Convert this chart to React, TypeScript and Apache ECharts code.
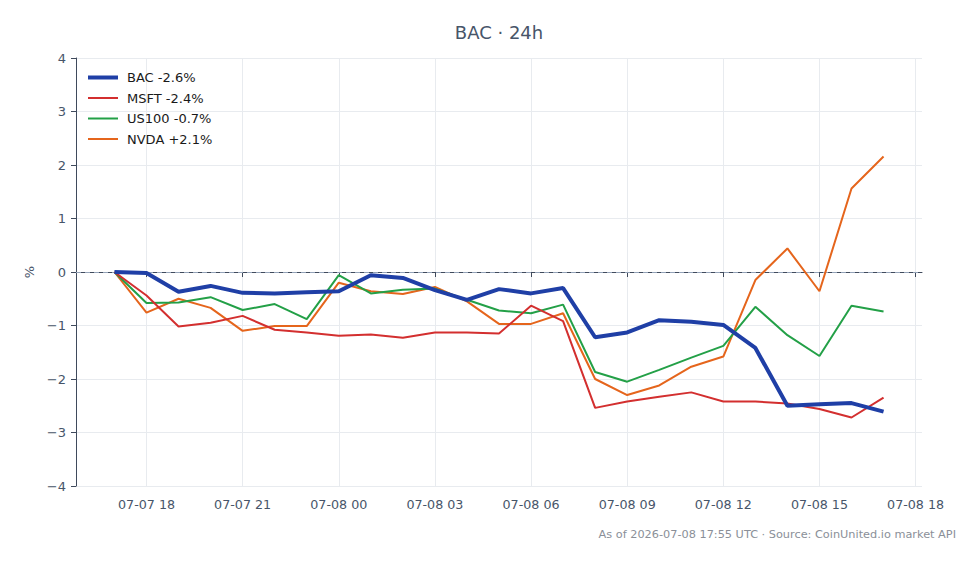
import React, { useEffect, useRef } from "react";
import * as echarts from "echarts";

const H = 3600 * 1000;
const START = Date.UTC(2026, 6, 7, 17);
const hours = Array.from({ length: 25 }, (_, i) => START + i * H);

const seriesNames = ["BAC -2.6%", "MSFT -2.4%", "US100 -0.7%", "NVDA +2.1%"];
const bac = [0, -0.02, -0.37, -0.26, -0.39, -0.4, -0.38, -0.36, -0.06, -0.11, -0.34, -0.52, -0.32, -0.4, -0.3, -1.22, -1.13, -0.9, -0.93, -0.99, -1.42, -2.5, -2.47, -2.45, -2.61];
const msft = [0, -0.44, -1.02, -0.95, -0.82, -1.08, -1.13, -1.19, -1.17, -1.23, -1.13, -1.13, -1.15, -0.63, -0.92, -2.54, -2.42, -2.33, -2.25, -2.42, -2.42, -2.46, -2.56, -2.72, -2.35];
const us100 = [0, -0.58, -0.57, -0.47, -0.71, -0.6, -0.88, -0.06, -0.4, -0.33, -0.31, -0.52, -0.72, -0.77, -0.61, -1.87, -2.05, -1.83, -1.6, -1.38, -0.65, -1.18, -1.57, -0.63, -0.74];
const nvda = [0, -0.76, -0.5, -0.67, -1.1, -1.01, -1.01, -0.2, -0.36, -0.41, -0.28, -0.55, -0.97, -0.97, -0.77, -2.0, -2.3, -2.12, -1.77, -1.58, -0.15, 0.44, -0.36, 1.56, 2.16];
const colors = ["#1f3fa6", "#d32f2f", "#23a047", "#e5651c"];
const widths = [4, 2, 2, 2];
const xTicks = Array.from({ length: 9 }, (_, k) => Date.UTC(2026, 6, 7, 18) + k * 3 * H);

const pad = (n: number) => String(n).padStart(2, "0");
const fmt = (v: number) => {
  const d = new Date(v);
  return `${pad(d.getUTCMonth() + 1)}-${pad(d.getUTCDate())} ${pad(d.getUTCHours())}`;
};
const yFmt = (v: number) => (v < 0 ? "\u2212" + Math.abs(v) : String(v));

export default function App() {
  const ref = useRef<HTMLDivElement>(null);
  useEffect(() => {
    document.body.style.margin = "0";
    const chart = echarts.init(ref.current!, null, { renderer: "svg" });
    const all = [bac, msft, us100, nvda];
    chart.setOption({
      animation: false,
      textStyle: { fontFamily: "DejaVu Sans" },
      grid: { left: 76, right: 58, top: 58, bottom: 78 },
      graphic: [
        {
          type: "text",
          x: 499,
          y: 32,
          style: { text: "BAC · 24h", fill: "#475569", fontSize: 18, fontFamily: "DejaVu Sans", textAlign: "center", textVerticalAlign: "middle" },
        },
        {
          type: "text",
          x: 956,
          y: 534,
          style: { text: "As of 2026-07-08 17:55 UTC · Source: CoinUnited.io market API", fill: "#8a8f98", fontSize: 11.3, fontFamily: "DejaVu Sans", textAlign: "right", textVerticalAlign: "middle" },
        },
      ],
      legend: {
        left: 81,
        top: 66,
        orient: "vertical",
        itemWidth: 30,
        itemHeight: 14,
        itemGap: 7.5,
        itemStyle: { opacity: 0 },
        textStyle: { fontSize: 13, color: "#1a1a1a", fontFamily: "DejaVu Sans", padding: [0, 0, 0, 4] },
        data: seriesNames.map((name, si) => ({ name, lineStyle: { width: widths[si], color: colors[si] } })),
      },
      xAxis: {
        type: "value",
        min: START - 1.2 * H,
        max: START + 25.2 * H,
        axisLine: { lineStyle: { color: "#3f4a5c" } },
        axisTick: { show: true, customValues: xTicks, length: 5, lineStyle: { color: "#3f4a5c" } },
        axisLabel: { customValues: xTicks, formatter: fmt, color: "#475569", fontSize: 12.7, margin: 12 },
        splitLine: { show: true, lineStyle: { color: "#e8ebef" } },
      },
      yAxis: {
        type: "value",
        min: -4,
        max: 4,
        interval: 1,
        name: "%",
        nameLocation: "middle",
        nameGap: 40,
        nameRotate: 90,
        nameTextStyle: { color: "#475569", fontSize: 13 },
        axisLine: { show: true, lineStyle: { color: "#3f4a5c" } },
        axisTick: { show: true, length: 5, lineStyle: { color: "#3f4a5c" } },
        axisLabel: { color: "#475569", fontSize: 13, margin: 10, formatter: yFmt },
        splitLine: { show: true, lineStyle: { color: "#e8ebef" } },
      },
      series: seriesNames.map((name, si) => ({
        name,
        type: "line",
        data: hours.map((t, i) => [t, all[si][i]]),
        symbol: "none",
        z: 10 - si,
        lineStyle: { color: colors[si], width: widths[si] },
        itemStyle: { color: colors[si] },
        markLine:
          si === 0
            ? {
                silent: true,
                symbol: "none",
                label: { show: false },
                lineStyle: { color: "#94a3b8", type: [5, 4], width: 1 },
                data: [{ yAxis: 0 }],
                z: 1,
              }
            : undefined,
      })),
    });
    return () => chart.dispose();
  }, []);
  return <div ref={ref} style={{ width: 980, height: 564 }} />;
}
